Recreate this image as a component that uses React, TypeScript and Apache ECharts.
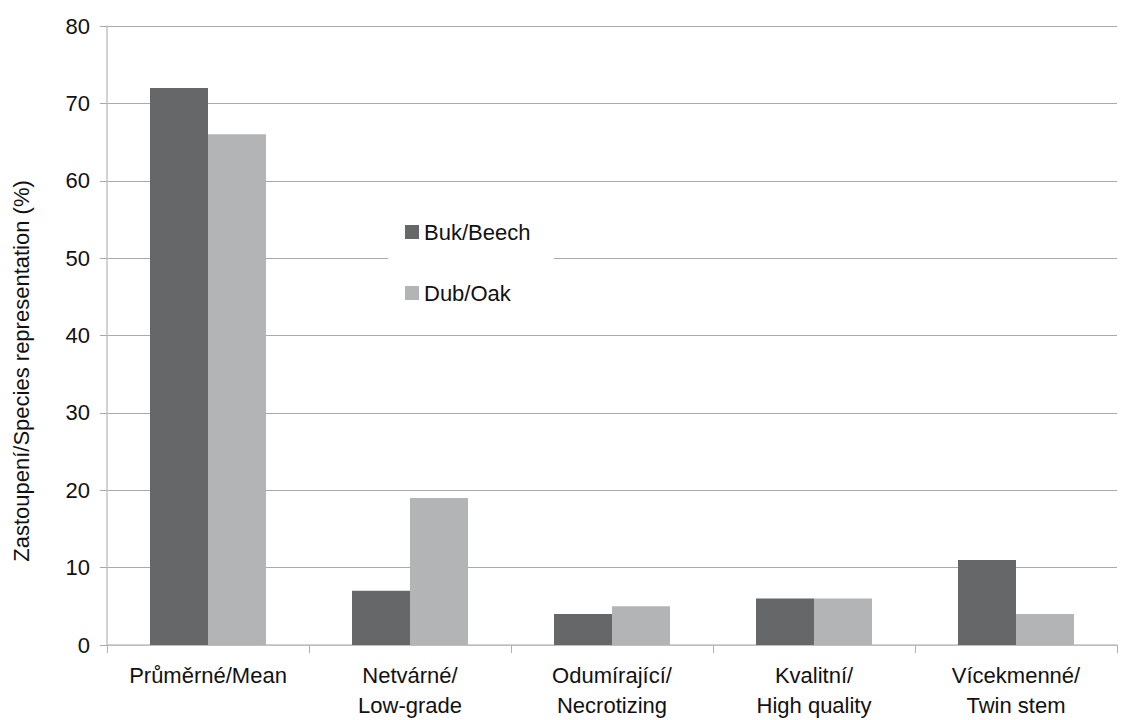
import React, { useEffect, useRef } from "react";
import * as echarts from "echarts";

const categories = [
  "Průměrné/Mean",
  "Netvárné/\nLow-grade",
  "Odumírající/\nNecrotizing",
  "Kvalitní/\nHigh quality",
  "Vícekmenné/\nTwin stem",
];
const beech = [72, 7, 4, 6, 11];
const oak = [66, 19, 5, 6, 4];
const seriesNames = ["Buk/Beech", "Dub/Oak"];
const yTitle = "Zastoupení/Species representation (%)";

const FONT = "'Liberation Sans', Arial, sans-serif";

export default function App() {
  const ref = useRef<HTMLDivElement>(null);
  useEffect(() => {
    if (!ref.current) return;
    const chart = echarts.init(ref.current, undefined, { renderer: "svg" });
    chart.setOption({
      animation: false,
      backgroundColor: "#ffffff",
      grid: { left: 107, right: 9, top: 26, bottom: 67 },
      legend: {
        orient: "vertical",
        left: 405,
        top: 221,
        padding: 0,
        itemWidth: 14,
        itemHeight: 14,
        itemGap: 39,
        icon: "rect",
        z: 5,
        textStyle: { fontSize: 22, lineHeight: 22, color: "#111", fontFamily: FONT, padding: [0, 0, 0, 0] },
        data: seriesNames,
      },
      graphic: [
        {
          type: "rect",
          z: 3,
          shape: { x: 388, y: 205, width: 166, height: 115 },
          style: { fill: "#ffffff" },
        },
        {
          type: "text",
          x: 21,
          y: 371,
          rotation: Math.PI / 2,
          style: {
            text: yTitle,
            font: `22px ${FONT}`,
            fill: "#111",
            textAlign: "center",
            textVerticalAlign: "middle",
          },
        },
      ],
      xAxis: {
        type: "category",
        data: categories,
        boundaryGap: true,
        axisLine: { show: true, lineStyle: { color: "#c4c4c4", width: 1.5 } },
        axisTick: { show: true, length: 8, alignWithLabel: false, lineStyle: { color: "#b0b0b0" } },
        axisLabel: { fontSize: 22, lineHeight: 30, color: "#111", fontFamily: FONT, margin: 15, interval: 0 },
      },
      yAxis: {
        type: "value",
        min: 0,
        max: 80,
        interval: 10,
        axisLine: { show: true, lineStyle: { color: "#c4c4c4", width: 1.5 } },
        axisTick: { show: true, length: 7, lineStyle: { color: "#aaaaaa" } },
        splitLine: { show: true, lineStyle: { color: "#aaaaaa", width: 1 } },
        axisLabel: { fontSize: 22, color: "#111", fontFamily: FONT, margin: 17 },
      },
      series: [
        {
          name: seriesNames[0],
          type: "bar",
          data: beech,
          barWidth: 58,
          barGap: "0%",
          itemStyle: { color: "#666769" },
        },
        {
          name: seriesNames[1],
          type: "bar",
          data: oak,
          barWidth: 58,
          barGap: "0%",
          itemStyle: { color: "#b3b4b6" },
        },
      ],
    });
    return () => chart.dispose();
  }, []);
  return <div ref={ref} style={{ width: 1126, height: 720, position: "absolute", left: 0, top: 0 }} />;
}
